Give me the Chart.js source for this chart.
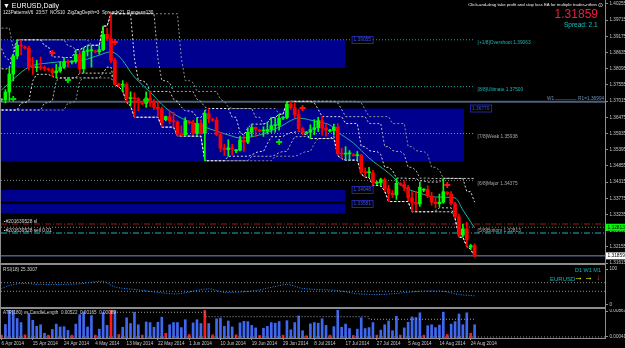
<!DOCTYPE html>
<html>
<head>
<meta charset="utf-8">
<title>EURUSD,Daily</title>
<script src="https://cdn.jsdelivr.net/npm/chart.js@4.4.1/dist/chart.umd.min.js"></script>
<style>
  html, body { margin: 0; padding: 0; background: #000; }
  #wrap { position: relative; width: 625px; height: 348px; overflow: hidden; background: #000;
          font-family: "Liberation Sans", Arial, sans-serif; color: #fff; }
  #wrap canvas { position: absolute; left: 0; }
  #mainChart { top: 0; }
  #rsiChart { top: 265px; }
  #atrChart { top: 309px; }
  .t { position: absolute; white-space: nowrap; line-height: 1; }
  .frame { position: absolute; background: #8c8c8c; }
</style>
</head>
<body>
<div id="wrap">
  <canvas id="mainChart" width="625" height="270"></canvas>
  <canvas id="rsiChart" width="625" height="44"></canvas>
  <canvas id="atrChart" width="625" height="39"></canvas>

  <!-- pane frames -->
  <div class="frame" style="left:0;top:0;width:1px;height:339px"></div>
  <div class="frame" style="left:605px;top:0;width:1px;height:339px"></div>
  <div class="frame" style="left:0;top:263px;width:606px;height:2px"></div>
  <div class="frame" style="left:0;top:307px;width:606px;height:2px"></div>
  <div class="frame" style="left:0;top:338px;width:606px;height:1px"></div>

  <!-- header texts -->
  <div class="t" style="left:3px;top:2px;font-size:7px;color:#fff">▼ EURUSD,Daily</div>
  <div class="t" style="left:3px;top:11px;font-size:4.6px;color:#e6e6e6">123PatternsV6&nbsp; 23:57&nbsp; NOS10&nbsp; ZigZagDepth=3&nbsp; Spread=21&nbsp; Ranges=130</div>
  <div class="t" style="right:28px;top:3px;font-size:4.3px;color:#f0f0f0">Click-and-drag take profit and stop loss EA for multiple trades-nthen</div>
  <div class="t" style="left:598px;top:2px;font-size:6px;color:#f0f0f0">⊙</div>
  <div class="t" style="right:27px;top:8px;font-size:12px;color:#ee1e44">1.31859</div>
  <div class="t" style="left:564px;top:22px;font-size:6.5px;color:#13c4c4">Spread: 2.1</div>

  <!-- indicator pane texts -->
  <div class="t" style="left:3px;top:268px;font-size:4.7px;color:#d0d0d0">RSI(18) 25.3007</div>
  <div class="t" style="left:575px;top:268px;font-size:5.5px;color:#13b8b8">D1 W1 M1</div>
  <div class="t" style="left:550px;top:276px;font-size:6px;color:#13b8b8">EURUSD</div>
  <div class="t" style="left:574px;top:273px;font-size:9px;font-weight:bold;color:#ffff00">→</div>
  <div class="t" style="left:584px;top:273px;font-size:9px;font-weight:bold;color:#ffff00">→</div>
  <div class="t" style="left:596px;top:273px;font-size:9px;font-weight:bold;color:#ff2020">↓</div>
  <div class="t" style="left:3px;top:311px;font-size:4.6px;color:#d0d0d0">ATR(180) vs CandleLength&nbsp; 0.00522&nbsp; 0.00165&nbsp; 0.00089</div>
</div>

<script>
// ===== DATA =====
// first 18 bars (16 Mar - 4 Apr 2014) are off-screen, they only feed the channels
const PRE = 18;

const dateLabels = ['6 Apr 2014', '15 Apr 2014', '24 Apr 2014', '4 May 2014', '13 May 2014', '22 May 2014',
  '1 Jun 2014', '10 Jun 2014', '19 Jun 2014', '29 Jun 2014', '8 Jul 2014', '17 Jul 2014', '27 Jul 2014',
  '5 Aug 2014', '14 Aug 2014', '24 Aug 2014'];
const dateBars = [0, 8, 16, 24, 32, 40, 48, 56, 64, 72, 80, 88, 96, 104, 112, 120];

const priceTicks = [1.40255, 1.39715, 1.39175, 1.38635, 1.38095, 1.37555, 1.37015, 1.36475, 1.35935,
  1.35395, 1.34855, 1.34315, 1.33775, 1.33235, 1.32695, 1.32155, 1.31615];

const opens = [
  1.3915, 1.3912, 1.3928, 1.3930, 1.3830, 1.3780, 1.3788, 1.3790, 1.3835, 1.3820, 1.3810, 1.3750, 1.3745, 1.3748, 1.3770, 1.3795, 1.3765, 1.3720,
  1.3705, 1.3706, 1.3732, 1.3792, 1.3852, 1.3888, 1.3882, 1.3878, 1.3817, 1.3813, 1.3817, 1.3812,
  1.3808, 1.3806, 1.3796, 1.3802, 1.3815, 1.3831, 1.3832, 1.3834, 1.3857, 1.3810, 1.3868, 1.3870,
  1.3868, 1.3866, 1.3873, 1.3924, 1.3910, 1.3837, 1.3757, 1.3755, 1.3757, 1.3710, 1.3712, 1.3710,
  1.3696, 1.3694, 1.3712, 1.3697, 1.3681, 1.3676, 1.3640, 1.3650, 1.3635, 1.3633, 1.3592, 1.3590,
  1.3633, 1.3630, 1.3594, 1.3627, 1.3595, 1.3660, 1.3640, 1.3638, 1.3590, 1.3545, 1.3540, 1.3546,
  1.3536, 1.3538, 1.3572, 1.3565, 1.3598, 1.3614, 1.3605, 1.3602, 1.3602, 1.3607, 1.3620, 1.3621,
  1.3645, 1.3647, 1.3692, 1.3680, 1.3656, 1.3610, 1.3596, 1.3598, 1.3607, 1.3613, 1.3637, 1.3612,
  1.3602, 1.3604, 1.3615, 1.3527, 1.3525, 1.3526, 1.3522, 1.3520, 1.3522, 1.3465, 1.3463, 1.3463,
  1.3428, 1.3430, 1.3440, 1.3410, 1.3395, 1.3389, 1.3426, 1.3424, 1.3414, 1.3380, 1.3364, 1.3359,
  1.3405, 1.3407, 1.3385, 1.3365, 1.3360, 1.3365, 1.3398, 1.3392, 1.3360, 1.3316, 1.3255, 1.3276,
  1.3215, 1.3220];
const highs = [
  1.3920, 1.3932, 1.3935, 1.3945, 1.3832, 1.3820, 1.3795, 1.3877, 1.3848, 1.3838, 1.3812, 1.3772, 1.3752, 1.3810, 1.3807, 1.3808, 1.3775, 1.3740,
  1.3710, 1.3740, 1.3813, 1.3858, 1.3905, 1.3906, 1.3886, 1.3884, 1.3848, 1.3838, 1.3849, 1.3819,
  1.3812, 1.3812, 1.3824, 1.3833, 1.3847, 1.3840, 1.3836, 1.3873, 1.3870, 1.3880, 1.3888, 1.3887,
  1.3872, 1.3887, 1.3952, 1.3944, 1.3993, 1.3844, 1.3762, 1.3770, 1.3763, 1.3733, 1.3730, 1.3713,
  1.3700, 1.3733, 1.3734, 1.3708, 1.3700, 1.3682, 1.3652, 1.3669, 1.3665, 1.3636, 1.3619, 1.3647,
  1.3637, 1.3638, 1.3647, 1.3639, 1.3670, 1.3677, 1.3645, 1.3648, 1.3597, 1.3558, 1.3573, 1.3558,
  1.3541, 1.3585, 1.3588, 1.3613, 1.3625, 1.3616, 1.3608, 1.3616, 1.3630, 1.3647, 1.3646, 1.3658,
  1.3650, 1.3699, 1.3701, 1.3696, 1.3674, 1.3615, 1.3600, 1.3623, 1.3640, 1.3648, 1.3650, 1.3626,
  1.3608, 1.3625, 1.3627, 1.3545, 1.3550, 1.3537, 1.3527, 1.3534, 1.3524, 1.3479, 1.3481, 1.3471,
  1.3434, 1.3445, 1.3445, 1.3422, 1.3404, 1.3444, 1.3430, 1.3436, 1.3421, 1.3401, 1.3402, 1.3432,
  1.3410, 1.3420, 1.3398, 1.3380, 1.3392, 1.3444, 1.3400, 1.3400, 1.3365, 1.3325, 1.3292, 1.3298,
  1.3224, 1.3226];
const lows = [
  1.3905, 1.3890, 1.3880, 1.3820, 1.3750, 1.3775, 1.3785, 1.3780, 1.3795, 1.3795, 1.3745, 1.3704, 1.3740, 1.3740, 1.3755, 1.3755, 1.3712, 1.3672,
  1.3700, 1.3696, 1.3703, 1.3769, 1.3842, 1.3856, 1.3875, 1.3805, 1.3791, 1.3800, 1.3806, 1.3803,
  1.3802, 1.3784, 1.3779, 1.3797, 1.3810, 1.3815, 1.3826, 1.3828, 1.3795, 1.3796, 1.3852, 1.3815,
  1.3862, 1.3858, 1.3870, 1.3903, 1.3830, 1.3756, 1.3750, 1.3735, 1.3698, 1.3686, 1.3648, 1.3670,
  1.3690, 1.3681, 1.3684, 1.3673, 1.3649, 1.3615, 1.3636, 1.3626, 1.3615, 1.3586, 1.3585, 1.3588,
  1.3625, 1.3589, 1.3588, 1.3592, 1.3503, 1.3630, 1.3634, 1.3586, 1.3533, 1.3520, 1.3518, 1.3522,
  1.3530, 1.3536, 1.3534, 1.3560, 1.3584, 1.3583, 1.3599, 1.3584, 1.3592, 1.3597, 1.3598, 1.3605,
  1.3640, 1.3643, 1.3674, 1.3646, 1.3603, 1.3591, 1.3592, 1.3577, 1.3590, 1.3600, 1.3588, 1.3585,
  1.3598, 1.3588, 1.3520, 1.3510, 1.3505, 1.3506, 1.3518, 1.3505, 1.3459, 1.3448, 1.3447, 1.3421,
  1.3424, 1.3419, 1.3402, 1.3367, 1.3380, 1.3374, 1.3420, 1.3403, 1.3370, 1.3333, 1.3336, 1.3351,
  1.3400, 1.3380, 1.3355, 1.3346, 1.3350, 1.3361, 1.3388, 1.3355, 1.3312, 1.3248, 1.3249, 1.3217,
  1.3208, 1.3183];
const closes = [
  1.3912, 1.3928, 1.3930, 1.3830, 1.3780, 1.3790, 1.3790, 1.3835, 1.3820, 1.3810, 1.3750, 1.3745, 1.3748, 1.3770, 1.3795, 1.3765, 1.3720, 1.3705,
  1.3706, 1.3732, 1.3792, 1.3852, 1.3888, 1.3885, 1.3878, 1.3817, 1.3813, 1.3817, 1.3812, 1.3810,
  1.3806, 1.3796, 1.3802, 1.3815, 1.3831, 1.3830, 1.3834, 1.3857, 1.3810, 1.3868, 1.3870, 1.3871,
  1.3866, 1.3873, 1.3924, 1.3910, 1.3837, 1.3758, 1.3755, 1.3757, 1.3710, 1.3712, 1.3710, 1.3697,
  1.3694, 1.3712, 1.3697, 1.3681, 1.3676, 1.3630, 1.3650, 1.3635, 1.3633, 1.3592, 1.3590, 1.3636,
  1.3630, 1.3594, 1.3627, 1.3595, 1.3660, 1.3643, 1.3638, 1.3590, 1.3545, 1.3540, 1.3546, 1.3541,
  1.3538, 1.3572, 1.3565, 1.3598, 1.3614, 1.3608, 1.3602, 1.3602, 1.3607, 1.3620, 1.3621, 1.3645,
  1.3647, 1.3692, 1.3680, 1.3656, 1.3610, 1.3595, 1.3598, 1.3607, 1.3613, 1.3637, 1.3612, 1.3605,
  1.3604, 1.3615, 1.3527, 1.3525, 1.3526, 1.3526, 1.3520, 1.3522, 1.3465, 1.3463, 1.3463, 1.3430,
  1.3430, 1.3440, 1.3410, 1.3395, 1.3389, 1.3428, 1.3424, 1.3414, 1.3380, 1.3364, 1.3359, 1.3415,
  1.3407, 1.3385, 1.3365, 1.3360, 1.3365, 1.3400, 1.3392, 1.3360, 1.3316, 1.3255, 1.3276, 1.3240,
  1.3220, 1.31859];

// moving average (bar, price)
const maBars   = [0, 7, 12, 21, 25, 28, 30, 34, 38, 42, 46, 52, 58, 61, 66, 71, 76, 81, 84, 86, 90, 94, 99, 103, 107, 111, 116, 118, 121];
const maValues = [1.3739, 1.3815, 1.3829, 1.3839, 1.3855, 1.3866, 1.3852, 1.3782, 1.3732, 1.3679, 1.3645, 1.3615, 1.3589, 1.3579,
  1.3589, 1.3615, 1.3645, 1.3632, 1.3622, 1.3599, 1.3562, 1.3512, 1.3462, 1.3415, 1.3395, 1.3382, 1.3379, 1.3339, 1.3279];

// 123Patterns signal marks
const upSignalBars   = [3, 17, 37, 71];
const upSignalVals   = [1.37088, 1.37721, 1.37055, 1.35655];
const downSignalBars = [13, 29, 77, 114];
const downSignalVals = [1.38621, 1.38988, 1.36788, 1.34221];

// supply / demand zones
const zoneTops    = [1.39055, 1.36771, 1.34055, 1.33588];
const zoneBottoms = [1.38121, 1.35005, 1.33688, 1.33288];
const zoneEnds    = [88, 118.3, 88, 88];
const zoneLabels  = ['1.39055', '1.36770', '1.34048', '1.33581'];

// Murrey math levels
const murreyNames  = ['[+1/8]Overshoot', '[8/8]Ultimate', '[7/8]Weak', '[6/8]Major', '[5/8]Bottom'];
const murreyValues = [1.39063, 1.37500, 1.35938, 1.34375, 1.32813];
const murreyEnd = 121;

const pivotR1 = 1.36994;
const orderId = '#201639528';
const orderSL = 1.32921;
const orderOpen = 1.32621;
const takeLevel = 1.32813;
const bid = 1.31859;

// channel periods (step lines)
const channelPeriods = [6, 12, 18];

// RSI(18)
const rsiBars   = [0, 2, 5, 10, 15, 20, 26, 29, 35, 40, 45, 53, 57, 65, 73, 77, 86, 91, 97, 101, 107, 113, 117, 121];
const rsiValues = [46, 54, 60, 57, 57, 59, 66, 50, 42, 35, 31, 45, 35, 40, 57, 46, 40, 31, 29, 32, 38, 38, 29, 25.3];
const rsiLevels = [62, 38];
const rsiTicks  = [0, 100];

// ATR(180) line in the candle length pane
const atrBars   = [28, 52, 94, 121];
const atrValues = [0.00826, 0.00686, 0.00604, 0.00604];
const atrTicks  = [0.00041, 0.00867];

// ===== LAYOUT =====
const BAR_PX = 3.91;
const X_MIN = -0.5 / BAR_PX;
const X_MAX = X_MIN + 604 / BAR_PX;
const AXIS_FONT = { family: '"Liberation Sans", Arial, sans-serif', size: 4.6 };
const SMALL = '4.8px "Liberation Sans", Arial, sans-serif';

const bull = '#00ff00', bear = '#ff0000';
const candleColors = opens.map((o, i) => closes[i] >= o ? bull : bear);

function xScale(show) {
  return {
    type: 'linear', min: X_MIN, max: X_MAX, offset: false, display: show,
    grid: { display: show, drawOnChartArea: false, tickLength: 2, color: '#8c8c8c', offset: false },
    border: { display: false },
    afterBuildTicks: s => { s.ticks = dateBars.map(v => ({ value: v })); },
    afterFit: s => { s.paddingLeft = 0; s.paddingRight = 0; if (show) s.height = 10; },
    ticks: {
      autoSkip: false, maxRotation: 0, align: 'start', padding: 1, color: '#c8c8c8', font: AXIS_FONT,
      callback: (v, i) => dateLabels[i]
    }
  };
}

function yScale(min, max, tickVals, fmt) {
  return {
    type: 'linear', position: 'right', min, max,
    grid: { drawOnChartArea: false, tickLength: 3, color: '#8c8c8c' },
    border: { display: false },
    afterBuildTicks: s => { s.ticks = tickVals.map(v => ({ value: v })); },
    afterFit: s => { s.width = 20; s.paddingTop = 0; s.paddingBottom = 0; },
    ticks: { padding: 1.5, color: '#c8c8c8', font: AXIS_FONT, callback: fmt }
  };
}

function hLine(y, from, to, color, dash, width, order) {
  return {
    type: 'line', data: [{ x: from, y }, { x: to, y }], borderColor: color, borderWidth: width || 1,
    borderDash: dash || [], pointRadius: 0, fill: false, order: order || 10
  };
}

function channel(src, n, pick) {
  return src.map((_, i) => ({
    x: i - PRE,
    y: pick(...src.slice(Math.max(0, i - n + 1), i + 1))
  })).slice(n - 1);
}

const baseOptions = (padTop, padBottom) => ({
  responsive: false, animation: false, events: [],
  layout: { autoPadding: false, padding: { left: 1, top: padTop, right: 0, bottom: padBottom } },
  plugins: { legend: { display: false }, tooltip: { enabled: false } }
});

// ===== MAIN CHART =====
const datasets = [];

zoneTops.forEach((top, k) => {
  datasets.push({
    type: 'line', data: [{ x: X_MIN, y: top }, { x: zoneEnds[k], y: top }],
    borderWidth: 0, pointRadius: 0, backgroundColor: '#00008e',
    fill: { value: zoneBottoms[k] }, order: 30
  });
});

murreyValues.forEach((v, k) => {
  datasets.push(hLine(v, X_MIN, murreyEnd, k < 2 ? '#1aa6a6' : '#8a8a8a', [1, 2], 1, 12));
});
datasets.push(hLine(pivotR1, X_MIN, X_MAX, '#4d6078', [], 2, 12));
datasets.push(hLine(orderSL, X_MIN, X_MAX, '#9a1b1b', [6, 2, 1, 2], 1, 12));
datasets.push(hLine(orderOpen, X_MIN, X_MAX, '#1fb0c0', [6, 2, 1, 2], 1, 12));
datasets.push(hLine(takeLevel, murreyEnd + 1.4, X_MAX, '#00dd00', [1, 2], 1, 12));
datasets.push(hLine(bid, X_MIN, X_MAX, '#7c8cc0', [], 1, 12));

const channelColors = ['rgba(255,255,255,0.85)', '#b4b4b4', '#8e8e8e'];
channelPeriods.forEach((n, k) => {
  [channel(highs, n, Math.max), channel(lows, n, Math.min)].forEach(d => {
    datasets.push({
      type: 'line', data: d, borderColor: channelColors[k], borderWidth: 1,
      borderDash: [2, 2], pointRadius: 0, fill: false, tension: 0, order: 8
    });
  });
});

datasets.push({
  type: 'line', data: maBars.map((b, i) => ({ x: b, y: maValues[i] })),
  borderColor: '#1db39c', borderWidth: 1, pointRadius: 0, fill: false,
  cubicInterpolationMode: 'monotone', order: 6
});

datasets.push({
  type: 'bar', data: highs.map((h, i) => ({ x: i - PRE, y: [lows[i], h] })),
  backgroundColor: candleColors, barThickness: 1, grouped: false, order: 4
});
datasets.push({
  type: 'bar', data: opens.map((o, i) => ({ x: i - PRE, y: [o, closes[i]] })),
  backgroundColor: candleColors, barThickness: 3, minBarLength: 1, grouped: false, order: 3
});

datasets.push({
  type: 'line', showLine: false, data: upSignalBars.map((b, i) => ({ x: b, y: upSignalVals[i] })),
  pointStyle: 'cross', pointRadius: 3, pointBorderWidth: 1.8, pointBorderColor: '#00e000', order: 1
});
datasets.push({
  type: 'line', showLine: false, data: downSignalBars.map((b, i) => ({ x: b, y: downSignalVals[i] })),
  pointStyle: 'cross', pointRadius: 3, pointBorderWidth: 1.8, pointBorderColor: '#ff1010', order: 1
});

const mainLabels = {
  id: 'mainLabels',
  afterDraw(chart) {
    const { ctx, scales: { x, y } } = chart;
    ctx.save();
    ctx.font = SMALL;
    ctx.textBaseline = 'middle';

    // murrey labels
    murreyValues.forEach((v, k) => {
      ctx.fillStyle = k < 2 ? '#1fb4b4' : '#a8a8a8';
      ctx.fillText(murreyNames[k] + ' ' + v.toFixed(5), x.getPixelForValue(murreyEnd) + 3, y.getPixelForValue(v) + 3);
    });

    // zone price boxes
    zoneTops.forEach((top, k) => {
      const bx = x.getPixelForValue(zoneEnds[k]) + 6, by = y.getPixelForValue(top);
      ctx.fillStyle = '#000';
      ctx.fillRect(bx, by - 3.5, 21, 7);
      ctx.strokeStyle = '#2424a8';
      ctx.lineWidth = 1;
      ctx.strokeRect(bx + 0.5, by - 3.5, 21, 7);
      ctx.fillStyle = '#3a56e8';
      ctx.fillText(zoneLabels[k], bx + 2, by);
    });

    // weekly pivot
    const py = y.getPixelForValue(pivotR1) - 3;
    ctx.fillStyle = '#6f8fb8';
    ctx.fillText('W1', 547, py);
    ctx.fillText('________', 555, py - 1);
    ctx.fillText('R1=' + pivotR1.toFixed(5), 578, py);

    // order lines
    ctx.fillStyle = '#d8d8d8';
    ctx.fillText('\u25AA' + orderId + ' sl', 4, y.getPixelForValue(orderSL) - 2);
    ctx.fillText('\u25AA' + orderId + ' sell 0.01', 4, y.getPixelForValue(orderOpen) - 2);

    // price tags on the axis
    const tag = (v, bg) => {
      const ty = y.getPixelForValue(v);
      ctx.fillStyle = bg;
      ctx.fillRect(606, ty - 3.5, 19, 7);
      ctx.fillStyle = '#000';
      ctx.fillText(v.toFixed(5), 607.5, ty);
    };
    tag(takeLevel, '#00ff00');
    tag(bid, '#ffffff');
    ctx.restore();
  }
};

new Chart(document.getElementById('mainChart'), {
  type: 'bar',
  data: { datasets },
  options: {
    ...baseOptions(0, 6),
    scales: {
      x: xScale(false),
      y: yScale(1.31588, 1.40388, priceTicks, v => v.toFixed(5))
    }
  },
  plugins: [mainLabels]
});

// ===== RSI =====
new Chart(document.getElementById('rsiChart'), {
  type: 'line',
  data: {
    datasets: [
      ...rsiLevels.map(v => hLine(v, X_MIN, X_MAX, '#8a8a8a', [1, 2], 1, 5)),
      {
        data: rsiBars.map((b, i) => ({ x: b, y: rsiValues[i] })), borderColor: '#1e8cff',
        borderWidth: 1, borderDash: [1, 1.5], pointRadius: 0, fill: false, tension: 0.25, order: 1
      }
    ]
  },
  options: {
    ...baseOptions(0, 0),
    scales: {
      x: xScale(false),
      y: yScale(-11.43, 111.43, rsiTicks, v => String(v))
    }
  }
});

// ===== CANDLE LENGTH / ATR =====
// pane is fixed between 0.00041 (y 337) and 0.00867 (y 311); taller bars are cut at the top
const visHigh = highs.slice(PRE), visLow = lows.slice(PRE);
const candleLen = visHigh.map((h, i) => h - visLow[i]);
new Chart(document.getElementById('atrChart'), {
  type: 'bar',
  data: {
    datasets: [
      {
        type: 'bar', data: candleLen.map((v, i) => ({ x: i, y: v })),
        backgroundColor: candleLen.map((v, i) => (i % 6 === 0 || v > 0.015) ? '#ff1a1a' : '#3f68f0'),
        barThickness: 2, grouped: false, order: 3
      },
      {
        type: 'line', data: atrBars.map((b, i) => ({ x: b, y: atrValues[i] })), stepped: 'before',
        borderColor: '#a0a0a0', borderWidth: 1, borderDash: [1, 2], pointRadius: 0, fill: false, order: 1
      },
      hLine(atrTicks[0], X_MIN, X_MAX, '#8a8a8a', [1, 2], 1, 2)
    ]
  },
  options: {
    ...baseOptions(1, 0),
    scales: {
      x: xScale(true),
      y: yScale(0.00009, 0.00899, atrTicks, v => v.toFixed(5))
    }
  }
});
</script>
</body>
</html>
